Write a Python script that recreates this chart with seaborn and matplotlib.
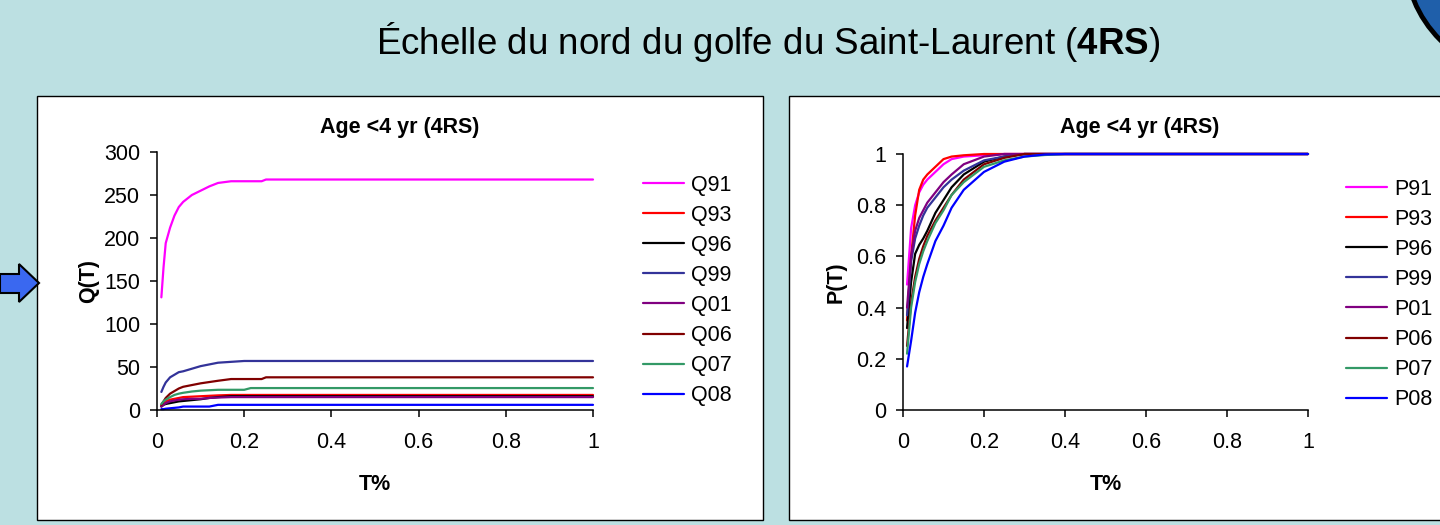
import numpy as np
import pandas as pd
import matplotlib
matplotlib.use("Agg")
import matplotlib.pyplot as plt
import seaborn as sns
from matplotlib.patches import Rectangle, Polygon, Circle
from matplotlib.lines import Line2D

# ---------------- data ----------------
series_q = ["Q91", "Q93", "Q96", "Q99", "Q01", "Q06", "Q07", "Q08"]
series_p = ["P91", "P93", "P96", "P99", "P01", "P06", "P07", "P08"]
colors = ["#FF00FF", "#FF0000", "#000000", "#333399", "#800080", "#800000", "#339966", "#0000FF"]

T_Q = [0.01, 0.015, 0.02, 0.03, 0.04, 0.05, 0.06, 0.08, 0.10, 0.12, 0.14, 0.17, 0.20, 0.215, 0.24, 0.25, 0.30, 0.50, 1.00]
Q91 = [131, 166, 194, 212, 226, 236, 242, 250, 255, 260, 264, 266, 266, 266, 266, 268, 268, 268, 268]
Q93 = [5, 8, 10, 12, 13, 14, 15, 15.5, 16, 16.5, 17, 17.5, 17.5, 17.5, 17.5, 17.5, 17.5, 17.5, 17.5]
Q96 = [4, 6, 7, 8, 9, 10, 10.5, 11.5, 12.5, 14, 15, 16, 16, 16, 16, 16, 16, 16, 16]
Q99 = [21, 27, 32, 38, 41, 44, 45, 48, 51, 53, 55, 56, 57, 57, 57, 57, 57, 57, 57]
Q01 = [4, 6, 8, 10, 11, 12, 12.5, 13, 13, 14, 14.5, 15, 15, 15, 15, 15, 15, 15, 15]
Q06 = [6, 10, 14, 19, 22, 25, 27, 29, 31, 32.5, 34, 36, 36, 36, 36, 38, 38, 38, 38]
Q07 = [7, 10, 12, 15, 17.5, 19, 20, 21.5, 22.5, 23, 23.5, 23.5, 23.5, 25.5, 25.5, 25.5, 25.5, 25.5, 25.5]
Q08 = [1, 1, 1.5, 2, 2.5, 3, 4, 4, 4, 4, 6, 6, 6, 6, 6, 6, 6, 6, 6]

T_P = [0.01, 0.02, 0.03, 0.04, 0.05, 0.06, 0.08, 0.10, 0.12, 0.15, 0.20, 0.25, 0.30, 0.35, 0.40, 1.00]
P91 = [0.49, 0.71, 0.80, 0.85, 0.88, 0.90, 0.93, 0.96, 0.98, 0.99, 0.995, 1, 1, 1, 1, 1]
P93 = [0.35, 0.60, 0.76, 0.86, 0.90, 0.92, 0.95, 0.98, 0.99, 0.995, 1, 1, 1, 1, 1, 1]
P96 = [0.32, 0.50, 0.61, 0.645, 0.67, 0.70, 0.77, 0.82, 0.87, 0.92, 0.97, 0.99, 1, 1, 1, 1]
P99 = [0.37, 0.58, 0.67, 0.72, 0.76, 0.79, 0.83, 0.87, 0.90, 0.935, 0.975, 0.99, 1, 1, 1, 1]
P01 = [0.40, 0.60, 0.70, 0.75, 0.78, 0.81, 0.85, 0.89, 0.92, 0.96, 0.99, 1, 1, 1, 1, 1]
P06 = [0.25, 0.42, 0.52, 0.59, 0.64, 0.68, 0.74, 0.79, 0.84, 0.90, 0.96, 0.985, 1, 1, 1, 1]
P07 = [0.22, 0.40, 0.50, 0.57, 0.62, 0.66, 0.73, 0.78, 0.84, 0.89, 0.95, 0.975, 0.99, 0.996, 1, 1]
P08 = [0.17, 0.27, 0.38, 0.46, 0.52, 0.57, 0.66, 0.72, 0.79, 0.86, 0.93, 0.97, 0.99, 0.998, 1, 1]

x_ticks = [0, 0.2, 0.4, 0.6, 0.8, 1]
x_ticklabels = ["0", "0.2", "0.4", "0.6", "0.8", "1"]
q_ticks = [0, 50, 100, 150, 200, 250, 300]
p_ticks = [0, 0.2, 0.4, 0.6, 0.8, 1]
p_ticklabels = ["0", "0.2", "0.4", "0.6", "0.8", "1"]

main_title = "Échelle du nord du golfe du Saint-Laurent ($\\mathbf{4RS}$)"
panel_title = "Age <4 yr (4RS)"

# ---------------- build long frames ----------------
q_vals = [Q91, Q93, Q96, Q99, Q01, Q06, Q07, Q08]
p_vals = [P91, P93, P96, P99, P01, P06, P07, P08]
dfq = pd.concat([pd.DataFrame({"T": T_Q, "v": v, "s": n}) for n, v in zip(series_q, q_vals)])
dfp = pd.concat([pd.DataFrame({"T": T_P, "v": v, "s": n}) for n, v in zip(series_p, p_vals)])

# ---------------- style ----------------
sns.set_style("ticks")
plt.rcParams["font.family"] = ["Liberation Sans", "DejaVu Sans"]
plt.rcParams["mathtext.fontset"] = "custom"
plt.rcParams["mathtext.rm"] = "Liberation Sans"
plt.rcParams["mathtext.bf"] = "Liberation Sans:bold"
plt.rcParams["text.color"] = "black"
plt.rcParams["axes.labelcolor"] = "black"
plt.rcParams["xtick.color"] = "black"
plt.rcParams["ytick.color"] = "black"

W, H = 1440, 525
BG = "#BCE0E2"
fig = plt.figure(figsize=(W / 100, H / 100), dpi=100, facecolor=BG)

# background decoration axes (pixel coordinates)
bg = fig.add_axes([0, 0, 1, 1], zorder=-5)
bg.set_xlim(0, W)
bg.set_ylim(H, 0)
bg.axis("off")
bg.add_patch(Rectangle((37, 96), 726, 424, facecolor="white", edgecolor="black", lw=1.0))
bg.add_patch(Rectangle((789, 96), 700, 424, facecolor="white", edgecolor="black", lw=1.0))
bg.add_patch(Circle((1525, -45), 120, facecolor="#1F5FAA", edgecolor="black", lw=3.5))
arrow = [(0, 274), (19, 274), (19, 264), (39, 283), (19, 302), (19, 293), (0, 293)]
bg.add_patch(Polygon(arrow, closed=True, facecolor="#3A68F0", edgecolor="black", lw=1.5))

fs = 15.5
fig.text(768 / W, 1 - 42 / H, main_title, ha="center", va="center", fontsize=26.5, color="black")

def style_axes(ax, yt, ytl, ylabel, ylim, lab_x):
    ax.set_facecolor("none")
    ax.set_xlim(0, 1)
    ax.set_ylim(*ylim)
    ax.set_xticks(x_ticks)
    ax.set_xticklabels(x_ticklabels)
    ax.set_yticks(yt)
    ax.set_yticklabels(ytl)
    for s in ["top", "right"]:
        ax.spines[s].set_visible(False)
    for s in ["left", "bottom"]:
        ax.spines[s].set_linewidth(1.1)
        ax.spines[s].set_color("black")
    ax.tick_params(axis="both", direction="out", length=5, width=1.1, labelsize=fs,
                   colors="black", labelcolor="black")
    ax.tick_params(axis="x", pad=11)
    ax.tick_params(axis="y", pad=7)
    ax.set_xlabel("T%", fontsize=fs, fontweight="bold", color="black")
    ax.set_ylabel(ylabel, fontsize=fs, fontweight="bold", color="black")
    ax.xaxis.set_label_coords(0.5, -0.25)
    ax.yaxis.set_label_coords(lab_x, 0.5)
    ax.grid(False)

# left chart
axL = fig.add_axes([157 / W, 1 - 410 / H, 436 / W, 258 / H])
sns.lineplot(data=dfq, x="T", y="v", hue="s", palette=colors, hue_order=series_q,
             estimator=None, sort=False, lw=1.6, legend=False, ax=axL)
style_axes(axL, q_ticks, [str(t) for t in q_ticks], "Q(T)", (0, 300), (99 - 157) / 436)
fig.text(400 / W, 1 - 128 / H, panel_title, ha="center", va="center", fontsize=fs,
         fontweight="bold", color="black")

# right chart
axR = fig.add_axes([903 / W, 1 - 410 / H, 405 / W, 256 / H])
sns.lineplot(data=dfp, x="T", y="v", hue="s", palette=colors, hue_order=series_p,
             estimator=None, sort=False, lw=1.6, legend=False, ax=axR)
style_axes(axR, p_ticks, p_ticklabels, "P(T)", (0, 1), (847 - 903) / 405)
fig.text(1140 / W, 1 - 128 / H, panel_title, ha="center", va="center", fontsize=fs,
         fontweight="bold", color="black")

for ax in (axL, axR):
    for ln in ax.get_lines():
        ln.set_clip_on(False)

def make_legend(ax, names, x_px, yc_px):
    handles = [Line2D([0], [0], color=c, lw=1.6) for c in colors]
    leg = ax.legend(handles, names, loc="center left",
                    bbox_to_anchor=(x_px / W, 1 - yc_px / H), bbox_transform=fig.transFigure,
                    frameon=False, fontsize=fs, handlelength=1.9, handletextpad=0.35,
                    labelspacing=0.42, borderpad=0, borderaxespad=0)
    for t in leg.get_texts():
        t.set_color("black")
    return leg

make_legend(axL, series_q, 643, 290.5)
make_legend(axR, series_p, 1346, 294.5)

fig.savefig("out.png", dpi=100, facecolor=BG)
